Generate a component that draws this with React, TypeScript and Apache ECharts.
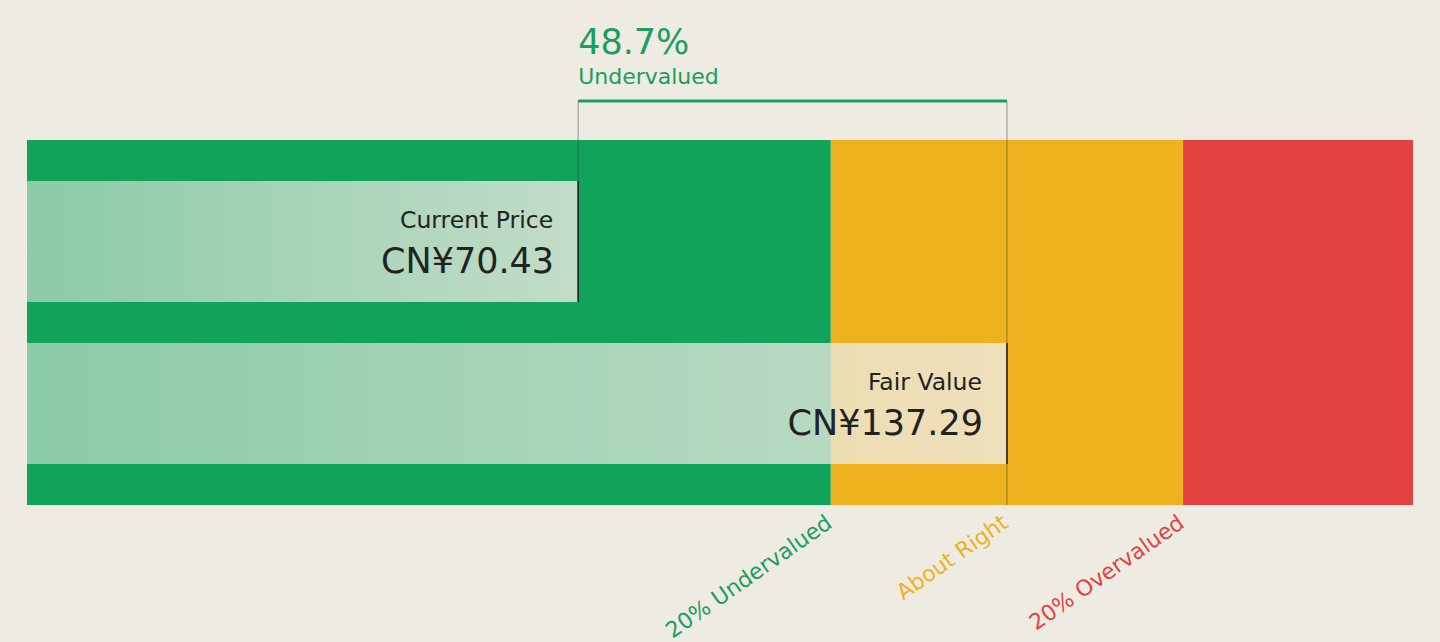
import { useEffect, useRef } from "react";
import * as echarts from "echarts";

// ---- data ----
const CURRENCY = "CN¥";
const BAR_NAMES = ["Current Price", "Fair Value"];
const BAR_VALUES = [70.43, 137.29];
const ZONE_NAMES = ["20% Undervalued", "About Right", "20% Overvalued"];
const ZONE_BOUNDS = [0.8, 1.2]; // zone edges as multiples of fair value
const ZONE_LABEL_AT = [0.8, 1.0, 1.2]; // label anchors as multiples of fair value
const AXIS_RANGE = [-15.5, 200.6];

// ---- styles ----
const BG = "#EEEBE3";
const GREEN = "#12A35B";
const YELLOW = "#EDB21D";
const RED = "#E44141";
const TEXT_GREEN = "#1A9E5C";
const ZONE_COLORS = [GREEN, YELLOW, RED];
const LABEL_COLORS = [TEXT_GREEN, YELLOW, RED];
const FONT = "DejaVu Sans";

const PLOT_LEFT = 27;
const PLOT_RIGHT = 27;
const PLOT_TOP = 140;
const PLOT_H = 365;
const BAR_H = 121;
const GAP = 41;
const BRACKET_Y = 101;

export default function App() {
  const ref = useRef<HTMLDivElement>(null);

  useEffect(() => {
    document.body.style.margin = "0";
    document.body.style.background = BG;
    if (!ref.current) return;
    const chart = echarts.init(ref.current, undefined, { renderer: "svg" });

    const fair = BAR_VALUES[1];
    const price = BAR_VALUES[0];
    const edges = [AXIS_RANGE[0], ...ZONE_BOUNDS.map((m) => m * fair), AXIS_RANGE[1]];
    const zoneData = ZONE_NAMES.map((_, i) => [edges[i], edges[i + 1], i]);
    const pct = ((fair - price) / fair) * 100;

    const option: any = {
      animation: false,
      backgroundColor: BG,
      grid: [
        { left: PLOT_LEFT, right: PLOT_RIGHT, top: PLOT_TOP, height: PLOT_H },
        { left: PLOT_LEFT, right: PLOT_RIGHT, top: PLOT_TOP + GAP / 2, height: PLOT_H - GAP },
      ],
      xAxis: [
        { type: "value", gridIndex: 0, min: AXIS_RANGE[0], max: AXIS_RANGE[1], show: false },
        { type: "value", gridIndex: 1, min: AXIS_RANGE[0], max: AXIS_RANGE[1], show: false },
      ],
      yAxis: [
        { type: "value", gridIndex: 0, min: 0, max: 1, show: false },
        { type: "category", gridIndex: 1, data: BAR_NAMES, inverse: true, show: false },
      ],
      series: [
        {
          type: "custom",
          xAxisIndex: 0,
          yAxisIndex: 0,
          z: 1,
          silent: true,
          data: zoneData,
          renderItem: (params: any, api: any) => {
            const p0 = api.coord([api.value(0), 1]);
            const p1 = api.coord([api.value(1), 0]);
            const idx = api.value(2);
            return {
              type: "rect",
              shape: { x: p0[0], y: p0[1], width: p1[0] - p0[0], height: p1[1] - p0[1] },
              style: { fill: ZONE_COLORS[idx] },
            };
          },
        },
        {
          type: "custom",
          xAxisIndex: 1,
          yAxisIndex: 1,
          z: 2,
          silent: true,
          data: BAR_VALUES.map((v, i) => [v, i]),
          encode: { x: 0, y: 1 },
          renderItem: (params: any, api: any) => {
            const i = api.value(1);
            const end = api.coord([api.value(0), i]);
            const start = api.coord([AXIS_RANGE[0], i]);
            const top = end[1] - BAR_H / 2;
            const cs = params.coordSys;
            const lineBottom =
              i === BAR_VALUES.length - 1 ? cs.y + cs.height + GAP / 2 : top + BAR_H;
            return {
              type: "group",
              children: [
                {
                  type: "rect",
                  shape: { x: start[0], y: top, width: end[0] - start[0], height: BAR_H },
                  style: {
                    fill: new echarts.graphic.LinearGradient(0, 0, 1, 0, [
                      { offset: 0, color: "rgba(238,235,227,0.55)" },
                      { offset: 1, color: "rgba(238,235,227,0.8)" },
                    ]),
                  },
                },
                {
                  type: "line",
                  shape: { x1: end[0], y1: BRACKET_Y, x2: end[0], y2: lineBottom },
                  style: { stroke: "rgba(40,40,40,0.45)", lineWidth: 1 },
                },
                {
                  type: "line",
                  shape: { x1: end[0], y1: top, x2: end[0], y2: top + BAR_H },
                  style: { stroke: "#1a1a1a", lineWidth: 1.5 },
                },
                {
                  type: "text",
                  x: end[0] - 25,
                  y: top + 39,
                  style: {
                    text: BAR_NAMES[i],
                    fill: "#222222",
                    fontSize: 23.5,
                    fontFamily: FONT,
                    align: "right",
                    verticalAlign: "middle",
                  },
                },
                {
                  type: "text",
                  x: end[0] - 24,
                  y: top + 80,
                  style: {
                    text: CURRENCY + api.value(0).toFixed(2),
                    fill: "#222222",
                    fontSize: 35,
                    fontFamily: FONT,
                    align: "right",
                    verticalAlign: "middle",
                  },
                },
              ],
            };
          },
        },
        {
          type: "custom",
          xAxisIndex: 1,
          yAxisIndex: 1,
          z: 3,
          silent: true,
          data: [[price, fair]],
          renderItem: (params: any, api: any) => {
            const a = api.coord([api.value(0), 0]);
            const b = api.coord([api.value(1), 0]);
            return {
              type: "group",
              children: [
                {
                  type: "line",
                  shape: { x1: a[0], y1: BRACKET_Y, x2: b[0], y2: BRACKET_Y },
                  style: { stroke: TEXT_GREEN, lineWidth: 3 },
                },
                {
                  type: "text",
                  x: a[0],
                  y: 42,
                  style: {
                    text: pct.toFixed(1) + "%",
                    fill: TEXT_GREEN,
                    fontSize: 35,
                    fontFamily: FONT,
                    align: "left",
                    verticalAlign: "middle",
                  },
                },
                {
                  type: "text",
                  x: a[0],
                  y: 76,
                  style: {
                    text: pct >= 0 ? "Undervalued" : "Overvalued",
                    fill: TEXT_GREEN,
                    fontSize: 22,
                    fontFamily: FONT,
                    align: "left",
                    verticalAlign: "middle",
                  },
                },
              ],
            };
          },
        },
        {
          type: "custom",
          xAxisIndex: 0,
          yAxisIndex: 0,
          z: 3,
          silent: true,
          data: ZONE_LABEL_AT.map((m, i) => [m * fair, i]),
          renderItem: (params: any, api: any) => {
            const p = api.coord([api.value(0), 0]);
            const i = api.value(1);
            return {
              type: "text",
              x: p[0] - 8,
              y: p[1] + 6,
              rotation: (35 * Math.PI) / 180,
              style: {
                text: ZONE_NAMES[i],
                fill: LABEL_COLORS[i],
                fontSize: 22,
                fontFamily: FONT,
                align: "right",
                verticalAlign: "top",
              },
            };
          },
        },
      ],
    };

    chart.setOption(option);
    return () => chart.dispose();
  }, []);

  return <div ref={ref} style={{ width: 1440, height: 642 }} />;
}
